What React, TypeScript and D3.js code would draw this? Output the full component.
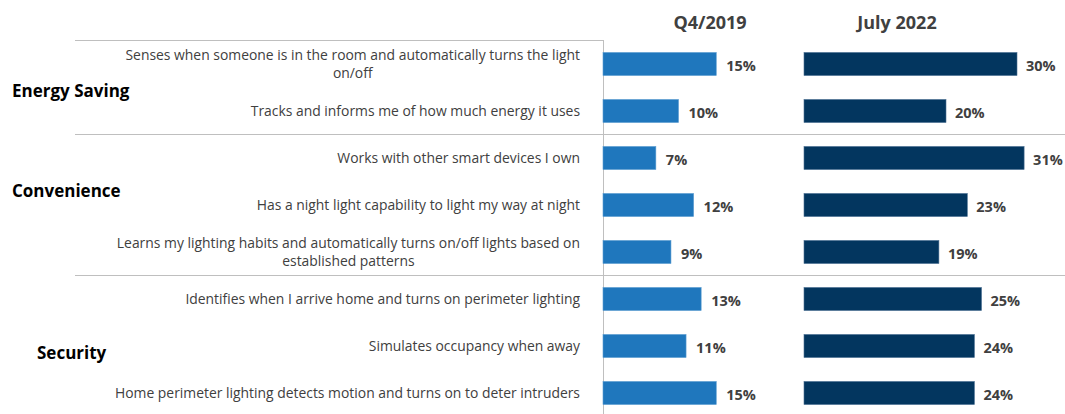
import React from 'react'
import * as d3 from 'd3'

const groups = ['Energy Saving', 'Convenience', 'Security']
const features = [
  ['Senses when someone is in the room and automatically turns the light', 'on/off'],
  ['Tracks and informs me of how much energy it uses'],
  ['Works with other smart devices I own'],
  ['Has a night light capability to light my way at night'],
  ['Learns my lighting habits and automatically turns on/off lights based on', 'established patterns'],
  ['Identifies when I arrive home and turns on perimeter lighting'],
  ['Simulates occupancy when away'],
  ['Home perimeter lighting detects motion and turns on to deter intruders'],
]
const featureGroup = [0, 0, 1, 1, 1, 2, 2, 2]
const q42019 = [15, 10, 7, 12, 9, 13, 11, 15]
const july2022 = [30, 20, 31, 23, 19, 25, 24, 24]
const seriesNames = ['Q4/2019', 'July 2022']

const W = 1065
const H = 414
const FONT = "'Open Sans', 'Noto Sans', sans-serif"
const TEXT = '#404040'
const GRID = '#bfbfbf'
const LABEL_SIZE = 13.9

let ctx: CanvasRenderingContext2D | null = null
function measure(s: string, font: string) {
  if (!ctx) ctx = document.createElement('canvas').getContext('2d')
  if (!ctx) return s.length * 6.5
  ctx.font = font
  return ctx.measureText(s).width
}

export default function App() {
  const y = d3.scaleBand<number>().domain(d3.range(features.length)).range([40.5, 416.5]).paddingInner(0.51).paddingOuter(0.255)
  const band = d3.scaleBand<number>().domain(d3.range(features.length)).range([40.5, 416.5])
  const xQ = d3.scaleLinear().domain([0, 10]).range([603, 678.5])
  const xJ = d3.scaleLinear().domain([0, 10]).range([804, 875])

  const labelRight = 580
  const labelFont = `${LABEL_SIZE}px ${FONT}`
  const groupPos = [
    { x: 12, y: 91 },
    { x: 12, y: 191 },
    { x: 37, y: 353 },
  ]

  // group boundaries (after last row of each group except final)
  const bounds = groups.slice(0, -1).map((_, gi) => {
    const last = featureGroup.lastIndexOf(gi)
    return band(last)! + band.bandwidth()
  })

  return (
    <div style={{ position: 'absolute', left: 0, top: 0 }}>
      <svg width={W} height={H} style={{ display: 'block', fontFamily: FONT }}>
        <rect width={W} height={H} fill="#fff" />
        {/* top line */}
        <line x1={75} x2={603} y1={40.5} y2={40.5} stroke={GRID} />
        {bounds.map((b, i) => (
          <line key={i} x1={75} x2={W} y1={Math.round(b) - 0.5} y2={Math.round(b) - 0.5} stroke={GRID} />
        ))}
        <line x1={603.5} x2={603.5} y1={40} y2={H} stroke={GRID} />

        {/* headers */}
        <text x={710} y={29} textAnchor="middle" fontWeight={700} fontSize={18} fill={TEXT}>{seriesNames[0]}</text>
        <text x={897} y={29} textAnchor="middle" fontWeight={700} fontSize={18} fill={TEXT}>{seriesNames[1]}</text>

        {/* group labels */}
        {groups.map((g, i) => (
          <text key={g} x={groupPos[i].x} y={groupPos[i].y} dy="0.35em" fontWeight={700} fontSize={17} fill="#000">{g}</text>
        ))}

        {/* feature labels */}
        {features.map((lines, i) => {
          const cy = band(i)! + band.bandwidth() / 2
          if (lines.length === 1) {
            return (
              <text key={i} x={labelRight} y={cy} dy="0.35em" textAnchor="end" fontSize={LABEL_SIZE} fill={TEXT}>{lines[0]}</text>
            )
          }
          const wMax = d3.max(lines, (l) => measure(l, labelFont)) || 0
          const cx = labelRight - wMax / 2
          return (
            <text key={i} textAnchor="middle" fontSize={LABEL_SIZE} fill={TEXT}>
              {lines.map((l, j) => (
                <tspan key={j} x={cx} y={cy + (j - (lines.length - 1) / 2) * 18} dy="0.35em">{l}</tspan>
              ))}
            </text>
          )
        })}

        {/* bars */}
        {q42019.map((v, i) => (
          <g key={`q${i}`}>
            <rect x={xQ(0)} y={y(i)} width={xQ(v) - xQ(0)} height={y.bandwidth()} fill="#1f77bd" stroke="#5a9bd0" strokeWidth={0.6} />
            <text x={xQ(v) + 10} y={y(i)! + y.bandwidth() / 2} dy="0.5em" fontWeight={700} fontSize={14.5} fill={TEXT}>{v}%</text>
          </g>
        ))}
        {july2022.map((v, i) => (
          <g key={`j${i}`}>
            <rect x={xJ(0)} y={y(i)} width={xJ(v) - xJ(0)} height={y.bandwidth()} fill="#03365f" stroke="#4a6f92" strokeWidth={0.6} />
            <text x={xJ(v) + 9} y={y(i)! + y.bandwidth() / 2} dy="0.5em" fontWeight={700} fontSize={14.5} fill={TEXT}>{v}%</text>
          </g>
        ))}
      </svg>
    </div>
  )
}
